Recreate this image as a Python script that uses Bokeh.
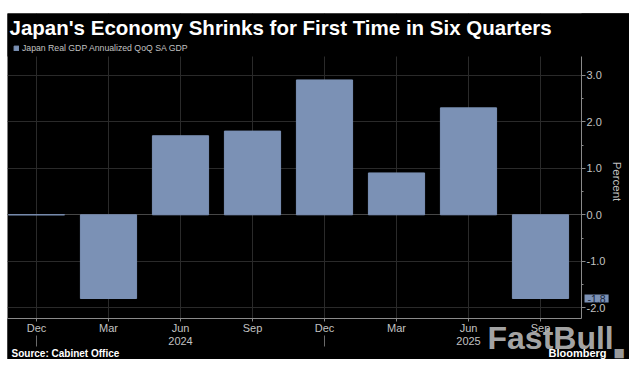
from bokeh.plotting import figure
from bokeh.models import (FixedTicker, NumeralTickFormatter, Label, Range1d, Spacer,
                          ColumnDataSource, BoxAnnotation, Grid, LinearAxis,
                          Legend, LegendItem)
from bokeh.layouts import column, row
from bokeh.embed import file_html
from bokeh.resources import INLINE
import math

# ---- data ----
quarters = ["Dec", "Mar", "Jun", "Sep", "Dec", "Mar", "Jun", "Sep"]
gdp = [0.0, -1.8, 1.7, 1.8, 2.9, 0.9, 2.3, -1.8]
year_labels = ["2024", "2025"]
year_label_at = [2, 6]          # under the June ticks
year_breaks = [0, 4]            # December ticks
y_ticks = [-2, -1, 0, 1, 2, 3]
series_name = "Japan Real GDP Annualized QoQ SA GDP"
title_text = "Japan's Economy Shrinks for First Time in Six Quarters"
source_text = "Source:  Cabinet Office"

xs = list(range(len(quarters)))
src = ColumnDataSource(dict(x=xs, top=gdp))

BG = "#000000"
BAR = "#7b91b5"
GRID = "#2a2a2a"
AXIS = "#8a8a8a"
TXT = "#c2c2c2"
FONT = "Liberation Sans"

# page-pixel -> data helpers (72 px per quarter, 46.5 px per percentage point)
def dx(px):
    return (px - 36.0) / 72.0

def dy(py):
    return (214.3 - py) / 46.5

W, H = 622, 346                 # canvas covers page x 7..629, y 13..359
X0, X1 = dx(7), dx(7 + W)
Y1, Y0 = dy(13), dy(13 + H)
PX_R = dx(581)                  # plot area right edge (value axis)
PY_T, PY_B = dy(56), dy(318.3)  # plot area top / bottom (time axis)

p = figure(width=W, height=H, output_backend="svg", toolbar_location=None,
           x_range=Range1d(X0, X1), y_range=Range1d(Y0, Y1),
           y_axis_location="right", min_border=0, min_border_left=0,
           min_border_right=0, min_border_top=0, min_border_bottom=0)
p.background_fill_color = BG
p.border_fill_color = BG
p.outline_line_color = None

# grids
p.xgrid.ticker = FixedTicker(ticks=xs)
p.ygrid.ticker = FixedTicker(ticks=y_ticks)
p.xgrid.grid_line_color = GRID
p.ygrid.grid_line_color = GRID
zero = Grid(dimension=1, ticker=FixedTicker(ticks=[0]), grid_line_color="#474747")
p.add_layout(zero)

# masks that keep the grid inside the plot area
for kw in (dict(left=X0 - 1, right=X1 + 1, bottom=PY_T, top=Y1 + 1),
           dict(left=X0 - 1, right=X1 + 1, bottom=Y0 - 1, top=PY_B),
           dict(left=PX_R, right=X1 + 1, bottom=Y0 - 1, top=Y1 + 1)):
    p.add_layout(BoxAnnotation(fill_color=BG, fill_alpha=1.0, line_color=None,
                               level="underlay", **kw))

# bars
bars = p.vbar(x="x", top="top", bottom=0, width=0.78, source=src,
              fill_color=BAR, line_color=BAR, line_width=1)

# time axis
xa = p.xaxis[0]
xa.fixed_location = PY_B
xa.bounds = (X0, PX_R)
xa.ticker = FixedTicker(ticks=xs)
xa.major_label_overrides = {i: q for i, q in enumerate(quarters)}
xa.axis_line_color = AXIS
xa.major_tick_line_color = AXIS
xa.major_tick_out = 3
xa.major_tick_in = 0
xa.minor_tick_line_color = None
xa.major_label_standoff = 0
xa.major_label_text_color = TXT
xa.major_label_text_font = FONT
xa.major_label_text_font_size = "11px"

# year separators (long ticks under the December labels)
ya2 = LinearAxis(fixed_location=dy(335), ticker=FixedTicker(ticks=year_breaks),
                 axis_line_color=None, major_tick_line_color="#6a6a6a",
                 major_tick_out=11, major_tick_in=0, minor_tick_line_color=None,
                 major_label_text_alpha=0.0, major_label_text_font_size="1px")
p.add_layout(ya2, "below")

# value axis (right)
ya = p.yaxis[0]
ya.fixed_location = PX_R
ya.bounds = (PY_B, PY_T)
ya.ticker = FixedTicker(ticks=y_ticks,
                        minor_ticks=[t + 0.5 for t in y_ticks[:-1]])
ya.formatter = NumeralTickFormatter(format="0.0")
ya.axis_line_color = AXIS
ya.major_tick_line_color = AXIS
ya.minor_tick_line_color = AXIS
ya.major_tick_out = 4
ya.major_tick_in = 0
ya.minor_tick_out = 2
ya.minor_tick_in = 0
ya.major_label_standoff = 1
ya.major_label_text_color = TXT
ya.major_label_text_font = FONT
ya.major_label_text_font_size = "11px"

def lab(px, py, text, **kw):
    opts = dict(x=dx(px), y=dy(py), text=text, text_align="left",
                text_baseline="middle", text_color=TXT, text_font=FONT,
                text_font_size="11px")
    opts.update(kw)
    p.add_layout(Label(**opts))

# year labels
for ylab, at in zip(year_labels, year_label_at):
    p.add_layout(Label(x=at, y=dy(340), text=ylab, text_align="center",
                       text_baseline="middle", text_color=TXT, text_font=FONT,
                       text_font_size="11px"))

# axis title
lab(616, 181, "Percent", angle=-math.pi / 2, text_align="center",
    text_font_size="11.5px")

# last value callout
p.add_layout(Label(x=dx(584), y=gdp[-1], text=f"{gdp[-1]:.1f}", text_align="left",
                   text_baseline="middle", text_color="#16233a", text_font=FONT,
                   text_font_size="10.5px", background_fill_color=BAR,
                   padding=(3, 0)))

# title and legend
lab(9, 27, title_text, text_color="#ffffff", text_font_style="bold",
    text_font_size="20.5px")
legend = Legend(items=[LegendItem(label=series_name, renderers=[bars])],
                location=(6, 359 - 53), orientation="horizontal",
                glyph_width=6, glyph_height=6, label_standoff=3, padding=0,
                margin=0, spacing=0, label_height=10, label_text_color=TXT,
                label_text_font=FONT, label_text_font_size="8.7px",
                background_fill_alpha=0.0, border_line_color=None)
p.add_layout(legend)

# footer
lab(11, 353, source_text, text_color="#ffffff", text_font_style="bold",
    text_font_size="10px")
lab(487, 337, "FastBull", text_color="#b4b4b4", text_alpha=0.93,
    text_font_style="bold", text_font_size="32px")
lab(548, 352, "Bloomberg", text_color="#ffffff", text_font_style="bold",
    text_font_size="11px")
lab(613, 352, "\u25a0", text_color="#9a9a9a", text_font="DejaVu Sans",
    text_font_size="12px")

layout = column(Spacer(width=7 + W, height=13), row(Spacer(width=7, height=H), p))
open("out.html", "w").write(file_html(layout, INLINE))
